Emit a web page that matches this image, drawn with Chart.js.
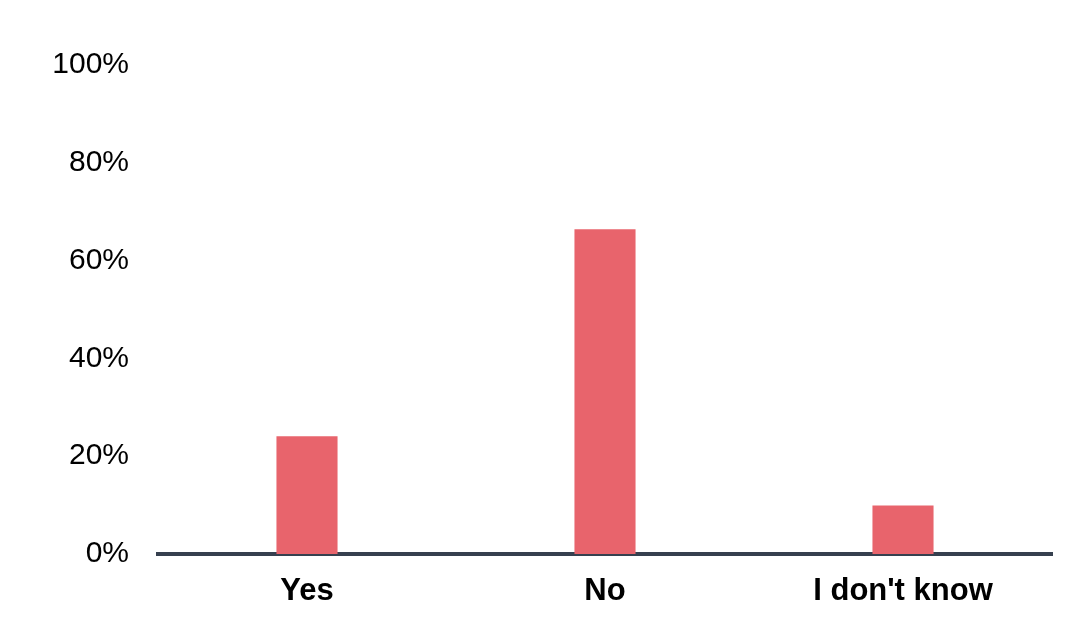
<!DOCTYPE html>
<html>
<head>
<meta charset="utf-8">
<script src="https://cdn.jsdelivr.net/npm/chart.js@4/dist/chart.umd.min.js"></script>
<style>
  html, body { margin: 0; padding: 0; background: #ffffff; }
  #wrap { width: 1074px; height: 628px; position: relative; }
</style>
</head>
<body>
<div id="wrap"><canvas id="c" width="1074" height="628"></canvas></div>
<script>
const categories = ["Yes", "No", "I don't know"];
const values = [24.1, 66.4, 9.9];
const yTicks = [0, 20, 40, 60, 80, 100];

const ctx = document.getElementById('c');
new Chart(ctx, {
  type: 'bar',
  data: {
    labels: categories,
    datasets: [{
      data: values,
      backgroundColor: '#e8646c',
      borderWidth: 0,
      categoryPercentage: 1.0,
      barPercentage: 0.205
    }]
  },
  options: {
    responsive: false,
    animation: false,
    devicePixelRatio: 1,
    layout: { padding: { left: 0, right: 22, top: 65, bottom: 0 } },
    plugins: { legend: { display: false }, tooltip: { enabled: false } },
    scales: {
      x: {
        grid: { display: false, drawTicks: false },
        border: { display: true, color: '#36404f', width: 4 },
        ticks: {
          color: '#000000',
          padding: 19,
          font: { family: '"Liberation Sans", Arial, sans-serif', size: 31, weight: 'bold' }
        },
        afterFit: (s) => { s.height = 74; }
      },
      y: {
        min: 0, max: 100,
        grid: { display: false, drawTicks: false },
        border: { display: false },
        afterBuildTicks: (s) => { s.ticks = yTicks.map(v => ({ value: v })); },
        ticks: {
          color: '#000000',
          padding: 29,
          font: { family: '"Liberation Sans", Arial, sans-serif', size: 30 },
          callback: (v) => v + '%'
        },
        afterFit: (s) => { s.width = 158; }
      }
    }
  }
});
</script>
</body>
</html>
